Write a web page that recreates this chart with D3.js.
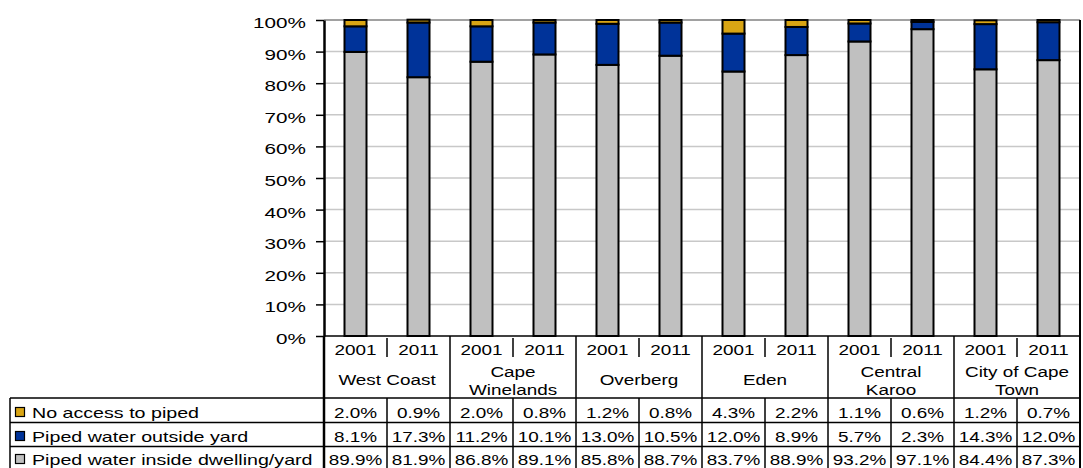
<!DOCTYPE html>
<html>
<head>
<meta charset="utf-8">
<script src="https://cdn.jsdelivr.net/npm/d3@7"></script>
<style>
  html, body { margin: 0; padding: 0; background: #fff; }
  svg { display: block; font-family: "Liberation Sans", Arial, sans-serif; }
</style>
</head>
<body>
<svg id="chart" width="1083" height="468"></svg>
<script>
// Access to piped water by district, Western Cape, 2001 vs 2011 (% of households)
const years = ["2001", "2011", "2001", "2011", "2001", "2011", "2001", "2011", "2001", "2011", "2001", "2011"];
const regions = [["West Coast"], ["Cape", "Winelands"], ["Overberg"], ["Eden"], ["Central", "Karoo"], ["City of Cape", "Town"]];
const seriesNames = ["No access to piped", "Piped water outside yard", "Piped water inside dwelling/yard"];
const noAccess = [2.0, 0.9, 2.0, 0.8, 1.2, 0.8, 4.3, 2.2, 1.1, 0.6, 1.2, 0.7];
const outsideYard = [8.1, 17.3, 11.2, 10.1, 13.0, 10.5, 12.0, 8.9, 5.7, 2.3, 14.3, 12.0];
const insideDwelling = [89.9, 81.9, 86.8, 89.1, 85.8, 88.7, 83.7, 88.9, 93.2, 97.1, 84.4, 87.3];
const yTicks = [0, 10, 20, 30, 40, 50, 60, 70, 80, 90, 100];

const colors = {
  inside: "#c0c0c0",
  outside: "#003399",
  none: "#d9a514"
};

const svg = d3.select("#chart");

// layout
const plotLeft = 324, plotRight = 1080, plotTop = 20, plotBottom = 336;
const legendLeft = 10;
const rowLines = [398, 422.5, 446.5];
const tableBottom = 470;

const rows = years.map((yr, i) => ({
  idx: i,
  inside: insideDwelling[i],
  outside: outsideYard[i],
  none: noAccess[i]
}));

const x = d3.scaleBand()
  .domain(d3.range(years.length))
  .range([plotLeft, plotRight])
  .paddingInner(0.619)
  .paddingOuter(0.3095);

const col = d3.scaleBand()
  .domain(d3.range(years.length))
  .range([plotLeft, plotRight])
  .padding(0);

const y = d3.scaleLinear().domain([0, 100]).range([plotBottom, plotTop]);

// stretched text helper (wide, Excel-style lettering)
function label(parent, tx, ty, str, opts = {}) {
  const sx = opts.sx || 1.26;
  return parent.append("text")
    .attr("transform", `translate(${tx},${ty}) scale(${sx},1)`)
    .attr("text-anchor", opts.anchor || "middle")
    .attr("font-size", opts.size || 15)
    .attr("fill", "#000")
    .text(str);
}

// gridlines
svg.append("g")
  .selectAll("line")
  .data(yTicks.filter(d => d > 0 && d < 100))
  .join("line")
  .attr("x1", plotLeft).attr("x2", plotRight)
  .attr("y1", d => y(d)).attr("y2", d => y(d))
  .attr("stroke", "#c8c8c8")
  .attr("stroke-width", 1.5);

svg.append("line")
  .attr("x1", plotLeft).attr("x2", plotRight)
  .attr("y1", y(100)).attr("y2", y(100))
  .attr("stroke", "#444")
  .attr("stroke-width", 1.2);

// stacked bars
const stack = d3.stack().keys(["inside", "outside", "none"]);
const layers = stack(rows);

svg.append("g")
  .selectAll("g")
  .data(layers)
  .join("g")
  .attr("fill", d => colors[d.key])
  .selectAll("rect")
  .data(d => d)
  .join("rect")
  .attr("x", d => x(d.data.idx) + 1)
  .attr("width", x.bandwidth() - 2)
  .attr("y", d => y(d[1]))
  .attr("height", d => y(d[0]) - y(d[1]))
  .attr("stroke", "#000")
  .attr("stroke-width", 2);

// y axis
const yAxis = svg.append("g")
  .attr("transform", `translate(${plotLeft},0)`)
  .call(d3.axisLeft(y).tickValues(yTicks).tickFormat(d => d + "%").tickSize(8).tickSizeOuter(0));
yAxis.select(".domain").attr("stroke", "#000").attr("stroke-width", 2.5);
yAxis.selectAll(".tick line").attr("stroke", "#000").attr("stroke-width", 1.5);
yAxis.selectAll(".tick text")
  .attr("x", null).attr("dy", null)
  .attr("transform", "translate(-18,7.5) scale(1.38,1)")
  .attr("font-size", 15)
  .attr("font-family", "\"Liberation Sans\", Arial, sans-serif")
  .attr("fill", "#000");

// x baseline and right border
svg.append("line")
  .attr("x1", plotLeft).attr("x2", plotRight)
  .attr("y1", plotBottom).attr("y2", plotBottom)
  .attr("stroke", "#000").attr("stroke-width", 1.5);

const table = svg.append("g").attr("stroke", "#000").attr("fill", "none");

// left and right borders of the data table
table.append("line")
  .attr("x1", plotLeft).attr("x2", plotLeft)
  .attr("y1", plotBottom).attr("y2", tableBottom)
  .attr("stroke-width", 2.5);
table.append("line")
  .attr("x1", plotRight).attr("x2", plotRight)
  .attr("y1", plotTop).attr("y2", tableBottom)
  .attr("stroke-width", 2);

// group borders in the header
table.selectAll("line.group")
  .data(d3.range(1, regions.length))
  .join("line")
  .attr("class", "group")
  .attr("x1", g => col(g * 2)).attr("x2", g => col(g * 2))
  .attr("y1", plotBottom).attr("y2", rowLines[0])
  .attr("stroke-width", 1.5);

// year dividers within each group
table.selectAll("line.year")
  .data(d3.range(regions.length))
  .join("line")
  .attr("class", "year")
  .attr("x1", g => col(g * 2 + 1)).attr("x2", g => col(g * 2 + 1))
  .attr("y1", plotBottom + 2).attr("y2", 357)
  .attr("stroke-width", 1.5);

// data row lines
table.selectAll("line.row")
  .data(rowLines)
  .join("line")
  .attr("class", "row")
  .attr("x1", legendLeft).attr("x2", plotRight)
  .attr("y1", d => d).attr("y2", d => d)
  .attr("stroke-width", 1.5);

table.selectAll("line.cell")
  .data(d3.range(1, years.length))
  .join("line")
  .attr("class", "cell")
  .attr("x1", i => col(i)).attr("x2", i => col(i))
  .attr("y1", rowLines[0]).attr("y2", tableBottom)
  .attr("stroke-width", 1.5);

table.append("line")
  .attr("x1", legendLeft).attr("x2", legendLeft)
  .attr("y1", rowLines[0]).attr("y2", tableBottom)
  .attr("stroke-width", 1.5);

// header text
const text = svg.append("g");
years.forEach((yr, i) => {
  label(text, col(i) + col.bandwidth() / 2, 354.5, yr);
});
regions.forEach((lines, g) => {
  const cx = col(g * 2) + col.bandwidth();
  if (lines.length === 1) {
    label(text, cx, 385, lines[0]);
  } else {
    label(text, cx, 376.5, lines[0]);
    label(text, cx, 395, lines[1]);
  }
});

// legend rows with values
const seriesValues = [noAccess, outsideYard, insideDwelling];
const seriesColors = [colors.none, colors.outside, colors.inside];
const baselines = [417.5, 441.5, 464.5];
seriesNames.forEach((name, r) => {
  const rowMid = baselines[r] - 5;
  svg.append("rect")
    .attr("x", 15.5).attr("y", rowMid - 5)
    .attr("width", 9).attr("height", 9)
    .attr("fill", seriesColors[r])
    .attr("stroke", "#000").attr("stroke-width", 1.2);
  label(text, 32, baselines[r], name, { anchor: "start", sx: 1.31 });
  seriesValues[r].forEach((v, i) => {
    label(text, col(i) + col.bandwidth() / 2, baselines[r], v.toFixed(1) + "%");
  });
});
</script>
</body>
</html>
